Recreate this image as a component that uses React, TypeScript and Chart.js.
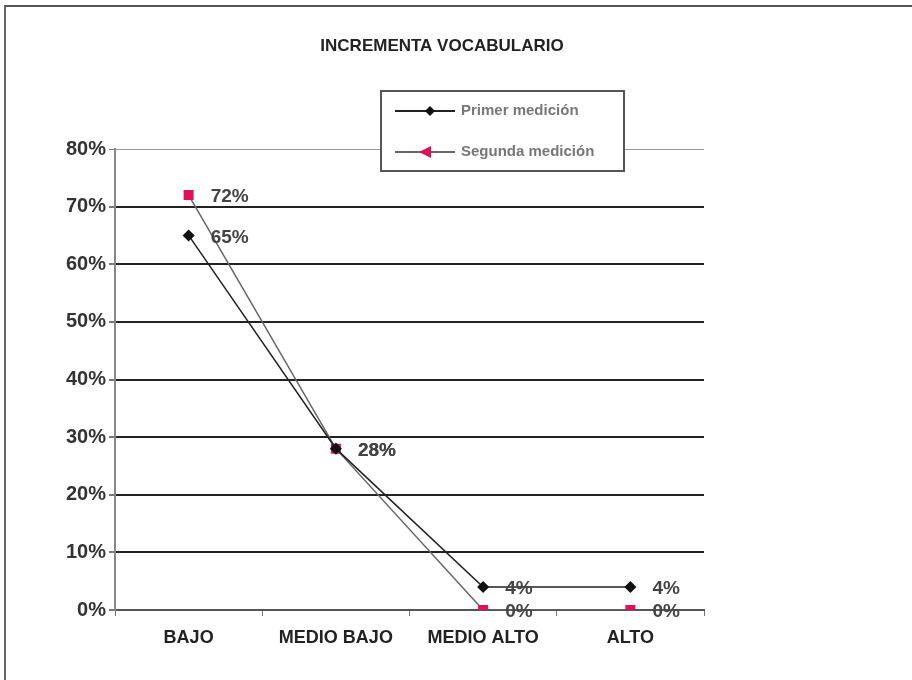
import React, { useEffect, useRef } from "react";
import { Chart, registerables } from "chart.js";

Chart.register(...registerables);

const categories = ["BAJO", "MEDIO BAJO", "MEDIO ALTO", "ALTO"];
const firstSeriesName = "Primer medición";
const secondSeriesName = "Segunda medición";
const firstSeries = [65, 28, 4, 4];
const secondSeries = [72, 28, 0, 0];
const yTicks = [0, 10, 20, 30, 40, 50, 60, 70, 80];

const FIRST_COLOR = "#111111";
const SECOND_COLOR = "#e0105a";
const FONT = "'Liberation Sans', Arial, sans-serif";

// Title, legend box and value labels drawn straight onto the canvas
const decorations = {
  id: "decorations",
  afterDatasetsDraw(chart: any) {
    const ctx = chart.ctx as CanvasRenderingContext2D;
    ctx.save();
    // value labels to the right of each marker
    ctx.font = `bold 19px ${FONT}`;
    ctx.fillStyle = "#444";
    ctx.textBaseline = "middle";
    ctx.textAlign = "left";
    chart.data.datasets.forEach((ds: any, di: number) => {
      const meta = chart.getDatasetMeta(di);
      meta.data.forEach((pt: any, i: number) => {
        ctx.fillText(ds.data[i] + "%", pt.x + 22, pt.y + 2);
      });
    });
    ctx.restore();
  },
  afterDraw(chart: any) {
    const ctx = chart.ctx as CanvasRenderingContext2D;
    ctx.save();
    // title
    ctx.font = `bold 17px ${FONT}`;
    ctx.fillStyle = "#222";
    ctx.textAlign = "center";
    ctx.textBaseline = "middle";
    ctx.fillText("INCREMENTA VOCABULARIO", 442, 46);

    // legend box
    const bx = 381, by = 91, bw = 243, bh = 80;
    ctx.fillStyle = "#ffffff";
    ctx.fillRect(bx, by, bw, bh);
    ctx.strokeStyle = "#555";
    ctx.lineWidth = 2;
    ctx.strokeRect(bx, by, bw, bh);

    const items = [
      { name: firstSeriesName, color: FIRST_COLOR, line: "#222", y: by + 20, style: "rectRot" },
      { name: secondSeriesName, color: SECOND_COLOR, line: "#666", y: by + 61, style: "triangle" },
    ];
    items.forEach((it) => {
      ctx.strokeStyle = it.line;
      ctx.lineWidth = 2;
      ctx.beginPath();
      ctx.moveTo(bx + 14, it.y);
      ctx.lineTo(bx + 74, it.y);
      ctx.stroke();
      ctx.fillStyle = it.color;
      if (it.style === "rectRot") {
        ctx.beginPath();
        ctx.moveTo(bx + 49, it.y - 5);
        ctx.lineTo(bx + 54, it.y);
        ctx.lineTo(bx + 49, it.y + 5);
        ctx.lineTo(bx + 44, it.y);
        ctx.closePath();
        ctx.fill();
      } else {
        ctx.beginPath();
        ctx.moveTo(bx + 38, it.y);
        ctx.lineTo(bx + 50, it.y - 6);
        ctx.lineTo(bx + 50, it.y + 6);
        ctx.closePath();
        ctx.fill();
      }
      ctx.font = `bold 15px ${FONT}`;
      ctx.fillStyle = "#777";
      ctx.textAlign = "left";
      ctx.textBaseline = "middle";
      ctx.fillText(it.name, bx + 80, it.y);
    });
    ctx.restore();
  },
};

export default function App() {
  const canvasRef = useRef<HTMLCanvasElement>(null);

  useEffect(() => {
    if (!canvasRef.current) return;
    const chart = new Chart(canvasRef.current, {
      type: "line",
      data: {
        labels: categories,
        datasets: [
          {
            label: firstSeriesName,
            data: firstSeries,
            borderColor: "#222",
            borderWidth: 1.5,
            backgroundColor: FIRST_COLOR,
            pointStyle: "rectRot",
            pointRadius: 5,
            pointBorderColor: FIRST_COLOR,
            pointBackgroundColor: FIRST_COLOR,
            tension: 0,
          },
          {
            label: secondSeriesName,
            data: secondSeries,
            borderColor: "#666",
            borderWidth: 1.5,
            backgroundColor: SECOND_COLOR,
            pointStyle: "rect",
            pointRadius: 6,
            pointBorderColor: SECOND_COLOR,
            pointBackgroundColor: SECOND_COLOR,
            tension: 0,
          },
        ],
      },
      options: {
        responsive: false,
        animation: false,
        layout: { padding: { top: 149, right: 208, bottom: 0, left: 0 } },
        plugins: {
          legend: { display: false },
          title: { display: false },
          tooltip: { enabled: false },
        },
        scales: {
          x: {
            offset: true,
            grid: {
              offset: true,
              drawOnChartArea: false,
              drawTicks: true,
              tickLength: 6,
              color: "#777",
            },
            border: { display: true, color: "#555", width: 2 },
            ticks: {
              color: "#222",
              padding: 11,
              font: { family: FONT, size: 18, weight: "bold" },
            },
            afterFit(scale: any) {
              scale.height = 70;
            },
          },
          y: {
            min: 0,
            max: 80,
            afterBuildTicks(scale: any) {
              scale.ticks = yTicks.map((v) => ({ value: v }));
            },
            grid: {
              color: (c: any) => (c.tick && c.tick.value === 80 ? "#999" : "#222"),
              lineWidth: (c: any) => (c.tick && c.tick.value === 80 ? 1 : 2),
              tickLength: 6,
              tickColor: "#777",
            },
            border: { display: true, color: "#888", width: 2 },
            ticks: {
              color: "#333",
              padding: 3,
              font: { family: FONT, size: 20, weight: "bold" },
              callback: (v: any) => v + "%",
            },
            afterFit(scale: any) {
              scale.width = 115;
            },
          },
        },
      },
      plugins: [decorations],
    });
    return () => chart.destroy();
  }, []);

  return (
    <div
      style={{
        position: "fixed",
        left: 0,
        top: 0,
        width: 912,
        height: 680,
        background: "#fff",
        overflow: "hidden",
      }}
    >
      <div
        style={{
          position: "absolute",
          left: 4,
          top: 5,
          width: 920,
          height: 690,
          borderTop: "2px solid #555",
          borderLeft: "2px solid #666",
        }}
      />
      <canvas ref={canvasRef} width={912} height={680} style={{ position: "absolute", left: 0, top: 0 }} />
    </div>
  );
}
